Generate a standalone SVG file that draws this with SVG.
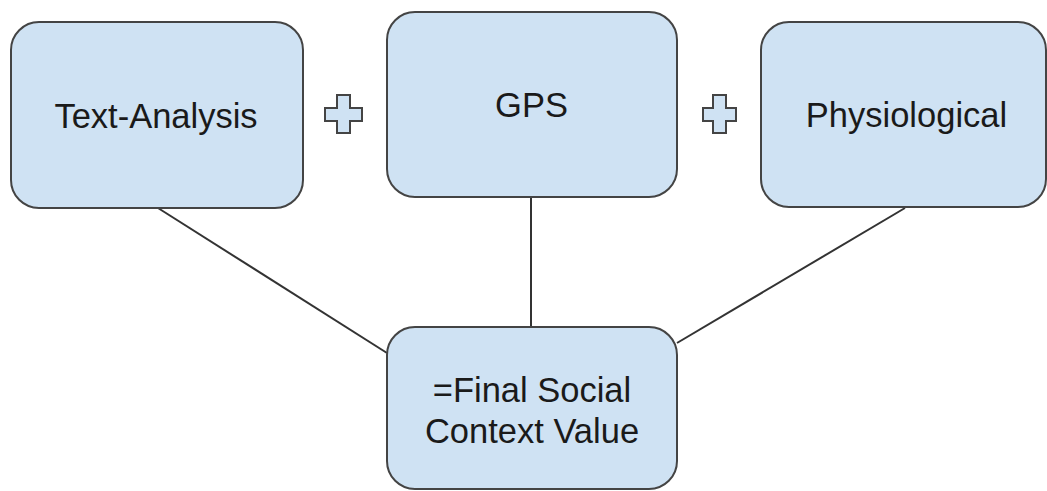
<svg xmlns="http://www.w3.org/2000/svg" width="1047" height="491" viewBox="0 0 1047 491">
  <style>
    .box { fill: #cfe2f3; stroke: #444444; stroke-width: 2; }
    .plus { fill: #cfe2f3; stroke: #444444; stroke-width: 2; stroke-linejoin: miter; }
    .link { stroke: #333333; stroke-width: 2; fill: none; }
    .label { font-family: "Liberation Sans", Arial, sans-serif; font-size: 34.5px; fill: #1a1a1a; text-anchor: middle; }
  </style>
  <rect width="1047" height="491" fill="#ffffff"/>

  <!-- connectors from each source to the result -->
  <g id="connectors">
    <line class="link" x1="158" y1="208" x2="387" y2="353"/>
    <line class="link" x1="531" y1="197" x2="531" y2="327"/>
    <line class="link" x1="905" y1="208" x2="677" y2="343"/>
  </g>

  <g id="text-analysis">
    <rect class="box" x="11" y="22" width="292" height="186" rx="28" ry="28"/>
    <text class="label" x="156" y="128">Text-Analysis</text>
  </g>

  <g id="plus-1">
    <path class="plus" d="M337,95 H350 V108 H362 V121 H350 V133 H337 V121 H325 V108 H337 Z"/>
  </g>

  <g id="gps">
    <rect class="box" x="387" y="12" width="290" height="185" rx="28" ry="28"/>
    <text class="label" x="531.5" y="117">GPS</text>
  </g>

  <g id="plus-2">
    <path class="plus" d="M713,95 H726 V108 H736 V121 H726 V133 H713 V121 H703 V108 H713 Z"/>
  </g>

  <g id="physiological">
    <rect class="box" x="761" y="22" width="285" height="185" rx="28" ry="28"/>
    <text class="label" x="906.5" y="127">Physiological</text>
  </g>

  <g id="final-value">
    <rect class="box" x="387" y="327" width="290" height="162" rx="28" ry="28"/>
    <text class="label" x="532" y="402">=Final Social</text>
    <text class="label" x="532" y="443">Context Value</text>
  </g>
</svg>
